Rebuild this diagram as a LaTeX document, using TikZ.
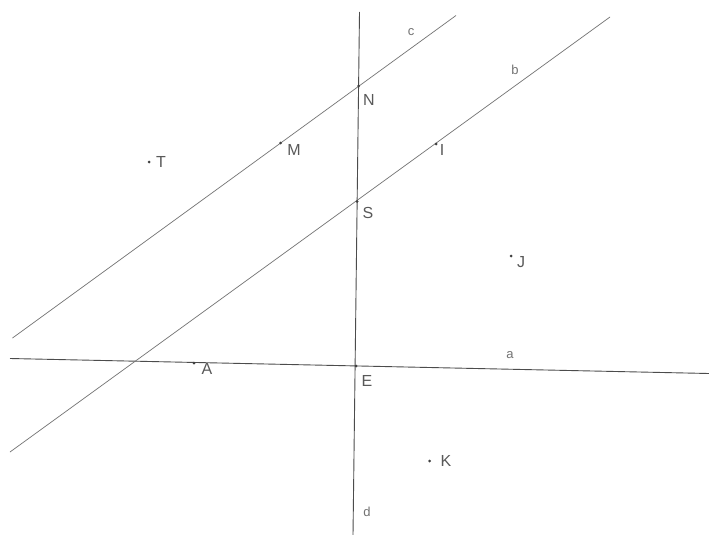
\documentclass[tikz,border=0pt]{standalone}
\usepackage{fontspec}
\setmainfont{Liberation Sans}
\begin{document}
\begin{tikzpicture}[x=1pt,y=-1pt,
  ln/.style={draw=black!70, line width=0.9pt},
  lnlight/.style={draw=black!55, line width=0.7pt},
  lbl/.style={text=black!65, font=\fontsize{16}{16}\selectfont, inner sep=0pt},
  llbl/.style={text=black!55, font=\fontsize{13}{13}\selectfont, inner sep=0pt},
  dot/.style={circle, fill=black!75, inner sep=0pt, minimum size=3pt}]
\useasboundingbox[fill=white] (0,0) rectangle (709,535);
% line end points
\coordinate (dT) at (359.5,12);
\coordinate (dB) at (353,535);
\coordinate (aL) at (10,358.5);
\coordinate (aR) at (709,373.5);
\coordinate (cL) at (12.5,338);
\coordinate (cR) at (456,15.5);
\coordinate (bL) at (10,452);
\coordinate (bR) at (610,17);
% lines
\draw[ln] (dT) -- (dB);
\draw[ln] (aL) -- (aR);
\draw[lnlight] (cL) -- (cR);
\draw[lnlight] (bL) -- (bR);
% points
\node[dot] (N) at (358.5,86) {};
\node[dot] (S) at (357,201.5) {};
\node[dot] (M) at (280.5,143) {};
\node[dot] (I) at (436,144) {};
\node[dot] (T) at (149,162) {};
\node[dot] (J) at (511,256) {};
\node[dot] (A) at (194,363) {};
\node[dot] (E) at (356,366) {};
\node[dot] (K) at (429.5,461) {};
% point labels
\node[lbl] (lN) at (369,100) {N};
\node[lbl] (lS) at (368,213) {S};
\node[lbl] (lM) at (294,150) {M};
\node[lbl] (lI) at (442,150) {I};
\node[lbl] (lT) at (161,162) {T};
\node[lbl] (lJ) at (521,262) {J};
\node[lbl] (lA) at (207,369) {A};
\node[lbl] (lE) at (367,381) {E};
\node[lbl] (lK) at (446,461) {K};
% line labels
\node[llbl] (lc) at (411,32) {c};
\node[llbl] (lb) at (515,70) {b};
\node[llbl] (la) at (510,355) {a};
\node[llbl] (ld) at (367,512) {d};
\end{tikzpicture}
\end{document}
